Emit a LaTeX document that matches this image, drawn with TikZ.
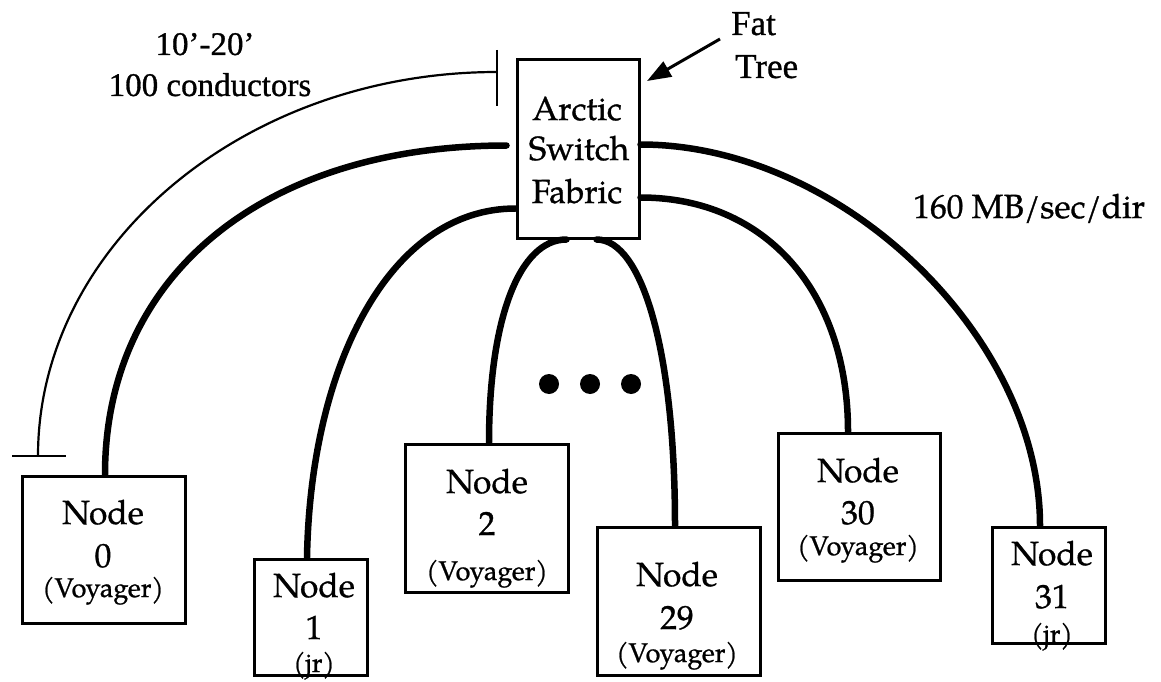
\documentclass[tikz,border=0pt]{standalone}
\usepackage{fontspec}
\setmainfont{TeX Gyre Pagella}[FakeBold=0.9]
\newfontfamily\timesfont{Liberation Serif}[FakeBold=0.9]
\usetikzlibrary{arrows.meta,calc}
\begin{document}
\begin{tikzpicture}[x=1pt,y=1pt,
  box/.style={draw,line width=3pt,inner sep=0pt},
  big/.style={font=\fontsize{33.5}{40}\selectfont,inner sep=0pt,anchor=base},
  small/.style={font=\fontsize{27}{32}\selectfont,inner sep=0pt,anchor=base},
  tms/.style={font=\timesfont\fontsize{33}{40}\selectfont,inner sep=0pt,anchor=base},
  link/.style={line width=6.5pt,line cap=round},
  dimline/.style={line width=2.2pt}]
\useasboundingbox (0,0) rectangle (1161,-682);
% boxes
\node[box,minimum width=122pt,minimum height=178pt] (sw) at (578,-149) {};
\node[box,minimum width=163pt,minimum height=147pt] (n0) at (103.5,-549.5) {};
\node[box,minimum width=113pt,minimum height=116pt] (n1) at (310.5,-617) {};
\node[box,minimum width=163pt,minimum height=148pt] (n2) at (486.5,-518) {};
\node[box,minimum width=163pt,minimum height=148pt] (n29) at (678.5,-601) {};
\node[box,minimum width=162pt,minimum height=147pt] (n30) at (859,-506.5) {};
\node[box,minimum width=113pt,minimum height=116pt] (n31) at (1048.5,-585) {};
% switch text
\node[big] (swt1) at (577,-120) {Arctic};
\node[big] (swt2) at (579,-160) {Switch};
\node[big] (swt3) at (577,-203) {Fabric};
% node texts
\node[big] (t0a) at (103,-524) {Node};
\node[big] (t0b) at (103,-567) {0};
\node[small] (t0c) at (103,-597) {(Voyager)};
\node[big] (t1a) at (314,-597) {Node};
\node[big] (t1b) at (314,-639) {1};
\node[small] (t1c) at (314,-672) {(jr)};
\node[big] (t2a) at (487,-493) {Node};
\node[big] (t2b) at (487,-535) {2};
\node[small] (t2c) at (487,-580) {(Voyager)};
\node[big] (t29a) at (677,-586) {Node};
\node[big] (t29b) at (677,-629) {29};
\node[small] (t29c) at (677,-662) {(Voyager)};
\node[big] (t30a) at (858,-482) {Node};
\node[big] (t30b) at (858,-524) {30};
\node[small] (t30c) at (858,-555) {(Voyager)};
\node[big] (t31a) at (1052,-565) {Node};
\node[big] (t31b) at (1052,-608) {31};
\node[small] (t31c) at (1052,-643) {(jr)};
% labels
\node[tms] (lenA) at (205,-55) {10’-20’};
\node[tms] (lenB) at (210,-96) {100 conductors};
\node[tms,anchor=base west,font=\timesfont\fontsize{35}{40}\selectfont] (ftA) at (731,-35) {Fat};
\node[tms,anchor=base west,font=\timesfont\fontsize{35}{40}\selectfont] (ftB) at (735,-78) {Tree};
\node[big,anchor=base west] (bw) at (913,-218) {160 MB/sec/dir};
% anchor points on switch
\coordinate (swL0) at ($(sw.north west)+(-9,-87)$);
\coordinate (swL1) at ($(sw.north west)+(0,-150)$);
\coordinate (swB1) at ($(sw.south west)+(51,0)$);
\coordinate (swB2) at ($(sw.south west)+(81,0)$);
\coordinate (swR1) at ($(sw.north east)+(0,-86)$);
\coordinate (swR2) at ($(sw.north east)+(0,-139)$);
% connectors
\draw[link] ([xshift=1.5pt]n0.north) to[out=90,in=180,out distance=200pt,in distance=242pt] (swL0);
\draw[link] ([xshift=-3.5pt]n1.north) to[out=89,in=180,out distance=192pt,in distance=126pt] (swL1);
\draw[link] (swB1) to[out=180,in=90,out distance=47pt,in distance=124pt] ([xshift=2.5pt]n2.north);
\draw[link] (swB2) to[out=0,in=90,out distance=46pt,in distance=173pt] ([xshift=-3.5pt]n29.north);
\draw[link] (swR2) to[out=0,in=90,out distance=125pt,in distance=140pt] ([xshift=-11pt]n30.north);
\draw[link] (swR1) to[out=0,in=90,out distance=200pt,in distance=190pt] ([xshift=-8.5pt]n31.north);
% cable length indicator
\coordinate (tb) at (38,-456);
\coordinate (tt) at (497,-72);
\draw[dimline] (tb) to[out=90,in=180,out distance=211pt,in distance=252pt] (tt);
\draw[dimline] ($(tb)+(-26,0)$) -- ($(tb)+(28,0)$);
\draw[dimline] ($(tt)+(0,22)$) -- ($(tt)+(0,-34)$);
% fat tree arrow
\coordinate (fa) at (720,-39);
\coordinate (fb) at (647,-81);
\draw[line width=3pt,-{Triangle[length=24pt,width=17pt]}] (fa) -- (fb);
% ellipsis dots
\fill (549,-384) circle[radius=10pt];
\fill (590,-384) circle[radius=10pt];
\fill (631,-384) circle[radius=10pt];
\end{tikzpicture}
\end{document}
